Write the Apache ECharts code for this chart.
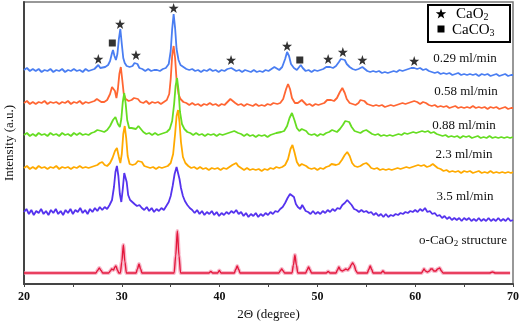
<!DOCTYPE html>
<html>
<head>
<meta charset="utf-8">
<script src="https://cdn.jsdelivr.net/npm/echarts@6/dist/echarts.min.js"></script>
<style>html,body{margin:0;padding:0;background:#fff}#c{width:520px;height:323px}</style>
</head>
<body>
<div id="c"></div>
<script>
// ---- data (2θ in degrees, intensity in arbitrary offset units) ----
const xTicks = [20, 30, 40, 50, 60, 70];
const seriesNames = ['0.29 ml/min', '0.58 ml/min', '0.88 ml/min', '2.3 ml/min', '3.5 ml/min', 'o-CaO2 structure'];

const blue = [[20,214],[20.3,216],[20.6,213],[20.9,215],[21.2,213],[21.5,215],[21.8,212],[22.1,214],[22.4,213],[22.7,215],[23.0,212],[23.3,214],[23.6,213],[23.9,215],[24.2,212],[24.5,214],[24.8,213],[25.1,215],[25.4,213],[25.7,214],[26.0,212],[26.3,215],[26.6,213],[26.9,214],[27.2,215],[27.4,217],[27.6,219],[27.8,216],[28.0,215],[28.3,217],[28.6,219],[28.8,223],[29.0,231],[29.1,234],[29.25,228],[29.4,224],[29.55,230],[29.7,245],[29.85,255],[30.0,240],[30.15,226],[30.3,221],[30.5,218],[30.8,217],[31.1,218],[31.3,221],[31.45,222],[31.6,220],[31.8,216],[32.1,215],[32.4,213],[32.7,215],[33.0,213],[33.3,214],[33.6,214],[33.9,213],[34.2,215],[34.5,216],[34.8,220],[35.0,233],[35.15,255],[35.3,270],[35.45,256],[35.6,235],[35.8,224],[36.0,219],[36.3,217],[36.6,215],[36.9,214],[37.2,215],[37.5,213],[37.8,214],[38.1,212],[38.4,214],[38.7,213],[39.0,215],[39.1,216],[39.3,213],[39.6,214],[39.9,212],[40.2,214],[40.5,213],[40.8,215],[41.0,216],[41.2,216],[41.4,215],[41.7,213],[42.0,214],[42.3,212],[42.6,214],[42.9,213],[43.2,212],[43.5,214],[43.8,212],[44.1,213],[44.4,212],[44.7,214],[45.0,213],[45.3,215],[45.6,217],[45.8,215],[46.1,214],[46.4,217],[46.7,225],[46.9,232],[47.1,228],[47.3,220],[47.6,216],[47.9,214],[48.1,216],[48.3,219],[48.5,216],[48.8,213],[49.1,214],[49.4,212],[49.7,214],[50.0,213],[50.3,214],[50.6,215],[50.9,217],[51.1,218],[51.3,217],[51.6,216],[51.9,218],[52.2,222],[52.4,225],[52.6,226],[52.8,224],[53.0,220],[53.3,217],[53.6,215],[53.9,214],[54.2,215],[54.4,216],[54.6,217],[54.8,215],[55.1,213],[55.4,212],[55.7,213],[56.0,212],[56.3,213],[56.6,211],[56.9,212],[57.2,211],[57.5,212],[57.8,213],[58.1,212],[58.4,214],[58.7,213],[59.0,214],[59.3,215],[59.6,216],[59.9,216],[60.2,215],[60.5,216],[60.8,214],[61.1,215],[61.4,213],[61.7,212],[62.0,211],[62.3,212],[62.6,210],[62.9,211],[63.2,210],[63.5,211],[63.8,209],[64.1,210],[64.4,211],[64.7,209],[65.0,210],[65.3,209],[65.6,210],[65.9,209],[66.2,210],[66.5,208],[66.8,210],[67.1,209],[67.4,210],[67.7,208],[68.0,209],[68.3,210],[68.6,208],[68.9,209],[69.2,210],[69.5,208],[69.8,209],[70,209]];

const orange = [[20,181],[20.3,183],[20.6,180],[20.9,182],[21.2,180],[21.5,182],[21.8,181],[22.1,183],[22.4,180],[22.7,182],[23.0,181],[23.3,182],[23.6,180],[23.9,182],[24.2,181],[24.5,183],[24.8,180],[25.1,182],[25.4,181],[25.7,183],[26.0,180],[26.3,182],[26.6,181],[26.9,182],[27.2,183],[27.45,185],[27.65,185],[27.9,182],[28.2,182],[28.5,184],[28.8,190],[29.0,197],[29.15,199],[29.3,193],[29.45,186],[29.6,195],[29.75,210],[29.9,217],[30.05,204],[30.2,190],[30.4,185],[30.7,183],[31.0,184],[31.25,186],[31.45,187],[31.65,185],[31.9,182],[32.2,181],[32.5,183],[32.8,180],[33.1,182],[33.4,181],[33.7,182],[34.0,180],[34.3,182],[34.6,184],[34.85,190],[35.0,205],[35.15,228],[35.3,238],[35.45,226],[35.6,204],[35.8,190],[36.0,185],[36.3,182],[36.6,181],[36.9,179],[37.2,181],[37.5,179],[37.8,180],[38.1,178],[38.4,180],[38.7,179],[39.0,181],[39.3,179],[39.6,180],[39.9,178],[40.2,180],[40.5,179],[40.8,182],[41.1,185],[41.3,184],[41.6,181],[41.9,179],[42.2,180],[42.5,178],[42.8,180],[43.1,179],[43.4,178],[43.7,180],[44.0,178],[44.3,179],[44.6,178],[44.9,180],[45.2,179],[45.5,181],[45.7,182],[45.9,180],[46.2,181],[46.5,185],[46.8,195],[47.0,200],[47.2,195],[47.4,186],[47.7,181],[48.0,181],[48.2,183],[48.4,184],[48.6,182],[48.9,179],[49.2,180],[49.5,178],[49.8,180],[50.1,179],[50.4,180],[50.7,181],[51.0,184],[51.2,186],[51.4,184],[51.7,183],[52.0,186],[52.3,192],[52.55,196],[52.8,191],[53.0,185],[53.3,181],[53.6,180],[53.9,179],[54.2,181],[54.4,184],[54.6,185],[54.8,183],[55.1,180],[55.4,179],[55.7,178],[56.0,179],[56.3,178],[56.6,179],[56.9,177],[57.2,178],[57.5,179],[57.8,178],[58.1,179],[58.4,180],[58.7,181],[59.0,180],[59.3,181],[59.6,182],[59.9,183],[60.2,182],[60.5,180],[60.8,182],[61.1,181],[61.4,179],[61.7,178],[62.0,179],[62.3,177],[62.6,178],[62.9,177],[63.2,178],[63.5,176],[63.8,177],[64.1,178],[64.4,176],[64.7,177],[65.0,176],[65.3,177],[65.6,176],[65.9,178],[66.2,176],[66.5,177],[66.8,176],[67.1,177],[67.4,175],[67.7,177],[68.0,176],[68.3,177],[68.6,175],[68.9,176],[69.2,177],[69.5,175],[69.8,176],[70,176]];

const green = [[20,149],[20.3,151],[20.6,148],[20.9,150],[21.2,148],[21.5,151],[21.8,149],[22.1,150],[22.4,148],[22.7,151],[23.0,149],[23.3,150],[23.6,148],[23.9,151],[24.2,149],[24.5,150],[24.8,148],[25.1,151],[25.4,149],[25.7,151],[26.0,149],[26.3,150],[26.6,149],[26.9,151],[27.2,152],[27.5,154],[27.7,156],[27.9,153],[28.2,152],[28.5,154],[28.8,158],[29.1,164],[29.35,167],[29.6,160],[29.8,157],[29.95,165],[30.1,182],[30.25,191],[30.4,180],[30.55,164],[30.75,156],[31.0,156],[31.2,158],[31.45,155],[31.7,158],[31.95,155],[32.2,152],[32.5,150],[32.8,151],[33.1,149],[33.4,151],[33.7,149],[34.0,150],[34.3,151],[34.6,152],[34.9,155],[35.15,163],[35.35,180],[35.5,198],[35.65,206],[35.8,194],[35.95,172],[36.15,160],[36.4,155],[36.7,152],[37.0,151],[37.3,149],[37.6,151],[37.9,149],[38.2,150],[38.5,148],[38.8,150],[39.1,149],[39.4,150],[39.7,148],[40.0,150],[40.3,149],[40.6,150],[40.9,151],[41.2,152],[41.5,153],[41.7,153],[41.9,151],[42.2,150],[42.5,148],[42.8,150],[43.1,148],[43.4,149],[43.7,147],[44.0,149],[44.3,148],[44.6,149],[44.9,147],[45.2,149],[45.5,150],[45.8,151],[46.0,151],[46.3,152],[46.6,153],[46.9,158],[47.15,166],[47.4,171],[47.65,164],[47.9,156],[48.15,153],[48.4,155],[48.6,156],[48.85,153],[49.1,150],[49.4,149],[49.7,150],[50.0,148],[50.3,150],[50.6,149],[50.9,151],[51.2,152],[51.5,154],[51.75,153],[52.0,152],[52.3,155],[52.6,159],[52.85,163],[53.05,165],[53.25,162],[53.5,157],[53.8,153],[54.1,152],[54.4,151],[54.7,153],[55.0,154],[55.3,152],[55.6,150],[55.9,149],[56.2,150],[56.5,148],[56.8,149],[57.1,148],[57.4,149],[57.7,148],[58.0,149],[58.3,150],[58.6,149],[58.9,151],[59.2,150],[59.5,151],[59.8,152],[60.1,151],[60.4,152],[60.7,153],[61.0,152],[61.3,153],[61.6,151],[61.9,152],[62.2,150],[62.5,149],[62.8,148],[63.1,149],[63.4,147],[63.7,148],[64.0,147],[64.3,148],[64.6,146],[64.9,148],[65.2,147],[65.5,148],[65.8,146],[66.1,147],[66.4,148],[66.7,146],[67.0,147],[67.3,146],[67.6,148],[67.9,146],[68.2,147],[68.5,146],[68.8,147],[69.1,146],[69.4,147],[69.7,146],[70,147]];

const yellow = [[20,116],[20.3,118],[20.6,115],[20.9,117],[21.2,115],[21.5,118],[21.8,116],[22.1,117],[22.4,115],[22.7,117],[23.0,116],[23.3,118],[23.6,115],[23.9,117],[24.2,116],[24.5,117],[24.8,115],[25.1,117],[25.4,116],[25.7,118],[26.0,116],[26.3,117],[26.6,116],[26.9,117],[27.2,118],[27.5,119],[27.75,121],[28.0,122],[28.25,119],[28.5,118],[28.8,121],[29.05,126],[29.3,133],[29.5,136],[29.7,127],[29.85,121],[30.0,130],[30.15,150],[30.3,158],[30.45,146],[30.6,128],[30.8,120],[31.1,119],[31.4,120],[31.65,123],[31.85,125],[32.05,122],[32.3,118],[32.6,117],[32.9,116],[33.2,117],[33.5,115],[33.8,117],[34.1,116],[34.4,117],[34.7,118],[35.0,121],[35.25,130],[35.45,150],[35.6,168],[35.75,174],[35.9,162],[36.05,142],[36.25,127],[36.5,121],[36.8,118],[37.1,116],[37.4,117],[37.7,115],[38.0,117],[38.3,115],[38.6,116],[38.9,114],[39.2,116],[39.5,115],[39.8,116],[40.1,114],[40.4,116],[40.7,115],[41.0,117],[41.3,119],[41.5,121],[41.7,121],[41.9,118],[42.2,116],[42.5,114],[42.8,116],[43.1,114],[43.4,115],[43.7,114],[44.0,115],[44.3,113],[44.6,115],[44.9,114],[45.2,116],[45.5,115],[45.8,117],[46.1,116],[46.4,117],[46.7,119],[47.0,125],[47.25,135],[47.45,139],[47.65,132],[47.9,122],[48.15,118],[48.4,120],[48.6,121],[48.85,118],[49.1,116],[49.4,115],[49.7,116],[50.0,114],[50.3,116],[50.6,115],[50.9,117],[51.2,118],[51.45,120],[51.65,121],[51.9,119],[52.2,120],[52.5,124],[52.8,129],[53.05,132],[53.3,128],[53.55,121],[53.8,118],[54.1,117],[54.4,118],[54.7,120],[55.0,121],[55.25,119],[55.5,116],[55.8,115],[56.1,116],[56.4,114],[56.7,115],[57.0,114],[57.3,115],[57.6,114],[57.9,115],[58.2,116],[58.5,115],[58.8,116],[59.1,117],[59.4,116],[59.7,117],[60.0,118],[60.3,119],[60.6,118],[60.9,119],[61.2,117],[61.5,118],[61.8,120],[62.0,118],[62.3,116],[62.6,115],[62.9,113],[63.2,114],[63.5,112],[63.8,113],[64.1,112],[64.4,113],[64.7,111],[65.0,113],[65.3,112],[65.6,113],[65.9,111],[66.2,112],[66.5,113],[66.8,111],[67.1,112],[67.4,111],[67.7,113],[68.0,111],[68.3,112],[68.6,111],[68.9,112],[69.2,111],[69.5,112],[69.8,111],[70,112]];

const purple = [[20,72],[20.25,75],[20.5,70],[20.75,74],[21.0,69],[21.25,73],[21.5,71],[21.75,75],[22.0,70],[22.25,73],[22.5,69],[22.75,74],[23.0,71],[23.25,75],[23.5,70],[23.75,73],[24.0,69],[24.25,74],[24.5,71],[24.75,75],[25.0,70],[25.25,74],[25.5,72],[25.75,76],[26.0,71],[26.25,74],[26.5,70],[26.75,75],[27.0,72],[27.25,76],[27.5,73],[27.75,77],[28.0,74],[28.25,77],[28.5,75],[28.75,79],[29.0,84],[29.2,97],[29.35,112],[29.5,118],[29.65,108],[29.8,90],[29.95,82],[30.1,95],[30.25,111],[30.35,113],[30.5,102],[30.65,89],[30.85,84],[31.05,83],[31.3,80],[31.55,78],[31.8,79],[32.05,76],[32.3,74],[32.55,77],[32.8,73],[33.05,76],[33.3,72],[33.55,75],[33.8,73],[34.05,76],[34.3,74],[34.55,78],[34.8,82],[35.0,88],[35.2,98],[35.4,110],[35.6,117],[35.75,115],[35.9,105],[36.05,96],[36.25,88],[36.45,83],[36.7,79],[36.95,76],[37.2,74],[37.45,71],[37.7,74],[37.95,70],[38.2,73],[38.45,69],[38.7,72],[38.95,70],[39.2,73],[39.45,69],[39.7,72],[39.95,68],[40.2,71],[40.45,69],[40.7,72],[40.95,70],[41.2,73],[41.45,71],[41.7,74],[41.95,70],[42.2,72],[42.45,68],[42.7,71],[42.95,67],[43.2,70],[43.45,68],[43.7,71],[43.95,67],[44.2,70],[44.45,68],[44.7,71],[44.95,69],[45.2,72],[45.45,70],[45.7,73],[45.95,72],[46.2,75],[46.45,77],[46.7,81],[46.95,86],[47.2,90],[47.4,91],[47.6,87],[47.8,80],[48.0,77],[48.25,75],[48.45,79],[48.6,78],[48.8,73],[49.05,72],[49.3,70],[49.55,73],[49.8,70],[50.05,72],[50.3,70],[50.55,73],[50.8,71],[51.05,74],[51.3,72],[51.55,75],[51.8,73],[52.05,76],[52.3,75],[52.55,79],[52.8,81],[53.05,84],[53.25,83],[53.5,79],[53.75,75],[54.0,74],[54.25,72],[54.5,74],[54.75,72],[55.0,73],[55.25,71],[55.5,72],[55.75,69],[56.0,71],[56.25,68],[56.5,70],[56.75,67],[57.0,70],[57.25,67],[57.5,69],[57.75,68],[58.0,70],[58.25,69],[58.5,71],[58.75,70],[59.0,72],[59.25,71],[59.5,73],[59.75,72],[60.0,74],[60.25,72],[60.5,75],[60.75,73],[61.0,76],[61.25,72],[61.5,73],[61.75,70],[62.0,71],[62.25,68],[62.5,69],[62.75,66],[63.0,68],[63.25,65],[63.5,67],[63.75,64],[64.0,66],[64.25,64],[64.5,66],[64.75,63],[65.0,66],[65.25,64],[65.5,66],[65.75,63],[66.0,65],[66.25,63],[66.5,66],[66.75,63],[67.0,65],[67.25,63],[67.5,66],[67.75,63],[68.0,65],[68.25,63],[68.5,66],[68.75,63],[69.0,65],[69.25,63],[69.5,66],[69.75,63],[70,64]];

const structure = [[20,11],[27.35,11],[27.52,13.5],[27.7,16],[27.88,13.5],[28.05,11],[28.65,11],[28.83,13],[28.97,15],[29.15,14],[29.3,17],[29.4,18],[29.55,14],[29.7,11],[29.85,11],[30.0,22],[30.16,39],[30.32,22],[30.47,11],[31.45,11],[31.6,15],[31.76,20],[31.92,15],[32.07,11],[35.35,11],[35.51,28],[35.68,53],[35.85,28],[36.01,11],[38.9,11],[39.1,12.5],[39.3,11],[39.8,11],[39.97,13.5],[40.15,11],[41.5,11],[41.65,14.5],[41.8,18],[41.95,14.5],[42.1,11],[46.05,11],[46.2,13],[46.35,15],[46.5,13],[46.65,11],[47.4,11],[47.55,19],[47.7,29],[47.85,19],[48.0,11],[48.8,11],[48.95,14],[49.1,17],[49.25,14],[49.4,11],[50.9,11],[51.1,12.5],[51.3,11],[51.9,11],[52.05,14],[52.2,17],[52.35,14],[52.55,13],[52.75,14],[52.9,15],[53.1,14],[53.3,16],[53.45,19],[53.6,21],[53.75,19],[53.95,13],[54.1,11],[55.1,11],[55.25,14.5],[55.4,18],[55.55,14.5],[55.7,11],[56.5,11],[56.7,13],[56.9,11],[60.65,11],[60.78,13],[60.9,15],[61.05,13],[61.25,12],[61.45,13],[61.6,15],[61.75,15],[61.9,13],[62.1,13],[62.3,15],[62.5,16],[62.68,13],[62.85,11],[67.6,11],[67.9,12],[68.2,11],[69.7,11]];

const caO2Marks = [[27.6,225],[29.82,260],[31.45,229],[35.3,276],[41.17,224],[46.9,238],[51.1,225],[52.6,232],[54.6,224],[59.9,223]];
const caCO3Marks = [[29.03,241],[48.2,224]];

// ---- styling ----
const serif = '"Liberation Serif", "DejaVu Serif", serif';
const colors = ['#4a7ef2', '#ff6633', '#66dd22', '#ffaa00', '#5533ee'];
const starPath = 'path://M0,-10L2.35,-3.24L9.51,-3.09L3.8,1.24L5.88,8.09L0,4.2L-5.88,8.09L-3.8,1.24L-9.51,-3.09L-2.35,-3.24Z';
const starPoly = [[0,-5.5],[1.29,-1.78],[5.23,-1.70],[2.09,0.68],[3.23,4.45],[0,2.31],[-3.23,4.45],[-2.09,0.68],[-5.23,-1.70],[-1.29,-1.78]];

const chart = echarts.init(document.getElementById('c'), null, {renderer: 'canvas'});

function lineSeries(name, data, color, w) {
  return {name, type: 'line', data, showSymbol: false, symbol: 'none', animation: false,
    lineStyle: {color, width: w}, z: 3};
}

const labelPos = [[465, 59], [466, 92], [464, 126], [464, 155], [465, 197]];
const graphics = [];
for (let i = 0; i < 5; i++) {
  graphics.push({type: 'text', x: labelPos[i][0], y: labelPos[i][1],
    style: {text: seriesNames[i], font: '13px ' + serif, fill: '#111', align: 'center', verticalAlign: 'middle'}});
}
graphics.push({type: 'text', x: 463, y: 241,
  style: {text: 'o-CaO{s|2} structure', font: '13px ' + serif, fill: '#111', align: 'center', verticalAlign: 'middle',
    rich: {s: {fontSize: 9, fontFamily: serif, padding: [6, 0, 0, 0]}}}});
// legend box
graphics.push({type: 'rect', shape: {x: 428, y: 5, width: 82, height: 37}, style: {fill: '#fff', stroke: '#000', lineWidth: 2}, z: 10});
graphics.push({type: 'polygon', x: 441, y: 14, shape: {points: starPoly}, style: {fill: '#000'}, z: 11});
graphics.push({type: 'rect', shape: {x: 437.5, y: 25.5, width: 7, height: 7}, style: {fill: '#000'}, z: 11});
graphics.push({type: 'text', x: 456, y: 14, z: 11,
  style: {text: 'CaO{s|2}', font: '15px ' + serif, fill: '#000', verticalAlign: 'middle',
    rich: {s: {fontSize: 10, fontFamily: serif, padding: [7, 0, 0, 0]}}}});
graphics.push({type: 'text', x: 452, y: 30, z: 11,
  style: {text: 'CaCO{s|3}', font: '15px ' + serif, fill: '#000', verticalAlign: 'middle',
    rich: {s: {fontSize: 10, fontFamily: serif, padding: [7, 0, 0, 0]}}}});

chart.setOption({
  animation: false,
  backgroundColor: '#fff',
  grid: {left: 24, right: 7, top: 2, bottom: 39, outerBoundsMode: 'none', containLabel: false,
    show: true, borderColor: '#777', borderWidth: 1.5, backgroundColor: 'transparent'},
  xAxis: {type: 'value', min: 20, max: 70, interval: 10,
    name: '2Θ (degree)', nameLocation: 'middle', nameGap: 21,
    nameTextStyle: {fontFamily: serif, fontSize: 13, color: '#111'},
    axisLine: {lineStyle: {color: '#444', width: 2}},
    axisTick: {show: true, length: 3, lineStyle: {color: '#444'}},
    minorTick: {show: true, splitNumber: 2, length: 3, lineStyle: {color: '#444'}},
    axisLabel: {fontFamily: serif, fontWeight: 'bold', fontSize: 12, color: '#111', margin: 7,
      formatter: v => (xTicks.indexOf(v) >= 0 ? String(v) : '')},
    splitLine: {show: false}},
  yAxis: {type: 'value', min: 0, max: 282,
    name: 'Intensity (a.u.)', nameLocation: 'middle', nameGap: 8,
    nameTextStyle: {fontFamily: serif, fontSize: 13, color: '#111'},
    axisLine: {show: true, lineStyle: {color: '#444', width: 2}},
    axisTick: {show: false}, axisLabel: {show: false}, splitLine: {show: false}},
  series: [
    lineSeries(seriesNames[0], blue, colors[0], 1.8),
    lineSeries(seriesNames[1], orange, colors[1], 1.8),
    lineSeries(seriesNames[2], green, colors[2], 1.8),
    lineSeries(seriesNames[3], yellow, colors[3], 1.8),
    lineSeries(seriesNames[4], purple, colors[4], 1.8),
    {type: 'line', data: structure, showSymbol: false, symbol: 'none', smooth: 0.3, smoothMonotone: 'x', lineStyle: {color: '#f48aa8', width: 4, opacity: 0.6}, z: 2, silent: true},
    Object.assign(lineSeries(seriesNames[5], structure, '#e3183c', 1.4), {smooth: 0.3, smoothMonotone: 'x'}),
    {type: 'scatter', data: caO2Marks, symbol: starPath, symbolSize: 10, itemStyle: {color: '#000'}, z: 5},
    {type: 'scatter', data: caCO3Marks, symbol: 'rect', symbolSize: 7, itemStyle: {color: '#000'}, z: 5}
  ],
  graphic: graphics
});
</script>
</body>
</html>
